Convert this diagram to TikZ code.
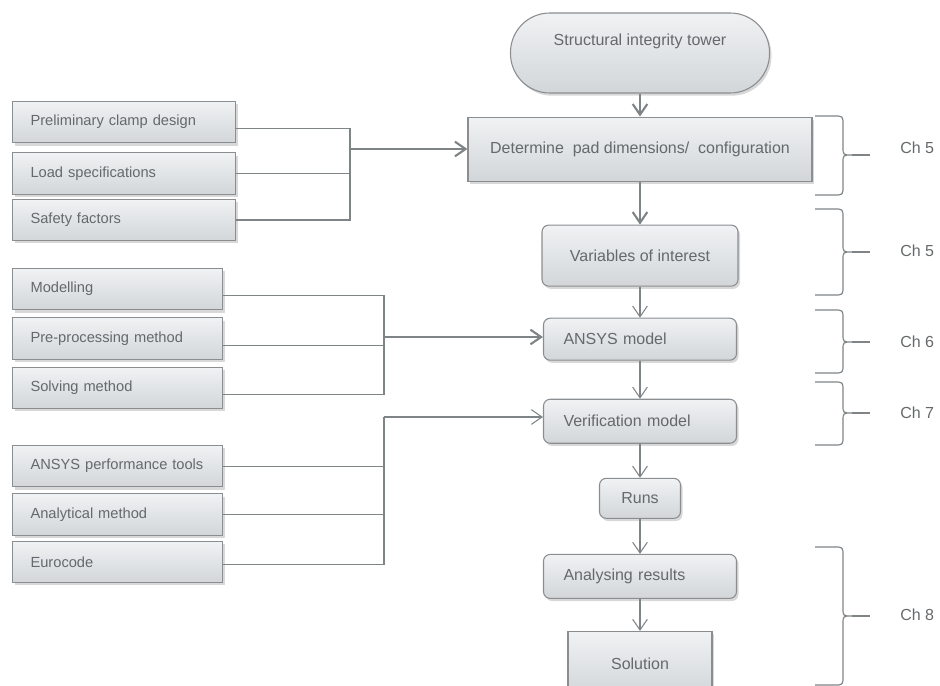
\documentclass[tikz,border=0pt]{standalone}
\usepackage{fontspec}
\setmainfont{Liberation Sans}
\usepackage{xcolor}
\usepackage{tikz}
\usetikzlibrary{arrows.meta,positioning,shadows}

\definecolor{lnc}{HTML}{7F8487}
\definecolor{bordc}{HTML}{8A8E91}
\definecolor{topc}{HTML}{F0F2F3}
\definecolor{botc}{HTML}{D2D6D9}
\definecolor{txtc}{HTML}{65696C}

\begin{document}
\begin{tikzpicture}[
  x=0.75pt, y=-0.75pt,
  box/.style={draw=bordc, line width=0.8pt, top color=topc, bottom color=botc, text=txtc,
    drop shadow={shadow xshift=1.5pt, shadow yshift=-2pt, opacity=0.22, fill=black!70}},
  mainbox/.style={box, font=\fontsize{12}{14}\selectfont, minimum height=31.5pt},
  rbox/.style={mainbox, rounded corners=5pt},
  lbox/.style={rbox, text width=114.75pt, inner xsep=15pt, align=left},
  src/.style={box, font=\fontsize{11}{13}\selectfont, minimum height=31pt, align=left, inner xsep=13.5pt, text width=130.5pt},
  link/.style={draw=lnc, line width=0.8pt},
  trunk/.style={draw=lnc, line width=1.6pt},
  arr/.style={link, -{Straight Barb[length=8pt,width=11pt]}},
  arrthick/.style={arr, line width=1.6pt},
  brace/.style={draw=lnc, line width=0.9pt},
  chlab/.style={text=txtc, font=\fontsize{12}{14}\selectfont, inner sep=0pt},
]
\useasboundingbox (0,0) rectangle (940,686);

% main column
\node[box, font=\fontsize{12}{14}\selectfont, rounded corners=29.5pt, minimum width=194.25pt, minimum height=60pt,
  text height=9pt, text depth=21pt] (tower) at (640,53) {Structural integrity tower};
\node[mainbox, minimum width=258pt, minimum height=48pt, below=17.25pt of tower] (det) {Determine\ \ pad dimensions/\ \ configuration};
\node[rbox, minimum width=147pt, minimum height=45.75pt, below=32.25pt of det] (vars) {Variables of interest};
\node[lbox, minimum height=31.5pt, below=23.25pt of vars] (ansys) {ANSYS model};
\node[lbox, minimum height=33pt, below=28.5pt of ansys] (verif) {Verification model};
\node[rbox, minimum width=60.75pt, minimum height=30pt, below=25.5pt of verif] (runs) {Runs};
\node[lbox, minimum height=33pt, below=26.25pt of runs] (anal) {Analysing results};
\node[mainbox, minimum width=108pt, minimum height=48pt, below=24pt of anal] (sol) {Solution};

\draw[arrthick] (tower) -- (det);
\draw[arrthick] (det) -- (vars);
\foreach \a/\b in {vars/ansys,ansys/verif,verif/runs,runs/anal,anal/sol}
  \draw[arr] (\a) -- (\b);

% inputs
\node[src, text width=140.25pt, anchor=north west] (prelim) at (12,101) {Preliminary clamp design};
\node[src, text width=140.25pt, below=6.75pt of prelim] (load) {Load specifications};
\node[src, text width=140.25pt, below=3pt of load] (safety) {Safety factors};

\node[src, anchor=north west] (model) at (12,268) {Modelling};
\node[src, below=5.25pt of model] (prep) {Pre-processing method};
\node[src, below=5.25pt of prep] (solve) {Solving method};

\node[src, anchor=north west] (perf) at (12,445) {ANSYS performance tools};
\node[src, below=4.5pt of perf] (analyt) {Analytical method};
\node[src, below=3.75pt of analyt] (euro) {Eurocode};

\coordinate (j1) at (350,149);
\draw[link] ([yshift=-4.5pt]prelim.east) -| (j1);
\draw[link] (safety.east) -| (j1);
\draw[link] (load.east) -- (load.east -| j1);
\draw[arrthick] (j1) -- (j1 -| det.west);

\coordinate (j2) at (384,337);
\draw[link] ([yshift=-5pt]model.east) -| (j2);
\draw[link] ([yshift=-5pt]solve.east) -| (j2);
\draw[link] ([yshift=-5pt]prep.east) -- ([yshift=-5pt]prep.east -| j2);
\draw[arrthick] (j2) -- (j2 -| ansys.west);

\coordinate (j3) at (384,417);
\draw[link] (perf.east) -- (perf.east -| j3);
\draw[link] (analyt.east) -- (analyt.east -| j3);
\draw[link] ([yshift=-2pt]euro.east) -| (j3);
\draw[trunk] (analyt.east -| j3) -- (j3);
\draw[arr] (j3) -- (j3 -| verif.west);

% chapter braces
\foreach \t/\b/\m/\ly/\lab [count=\i] in {116/195/155/148/Ch 5,209/295/252/251/Ch 5,310/373/342/342/Ch 6,382/445/413/413/Ch 7,547/685/616/615/Ch 8}{
  \draw[brace] (815,\t) -- (834,\t) .. controls (843,\t) .. (843,\t+9) -- (843,\m-8)
    .. controls (843,\m) .. (852,\m) .. controls (843,\m) .. (843,\m+8) -- (843,\b-9)
    .. controls (843,\b) .. (834,\b) -- (815,\b);
  \draw[brace] (852,\m) -- (870,\m);
  \node[chlab, anchor=west] (ch\i) at (900,\ly) {\lab};
}
\end{tikzpicture}
\end{document}
